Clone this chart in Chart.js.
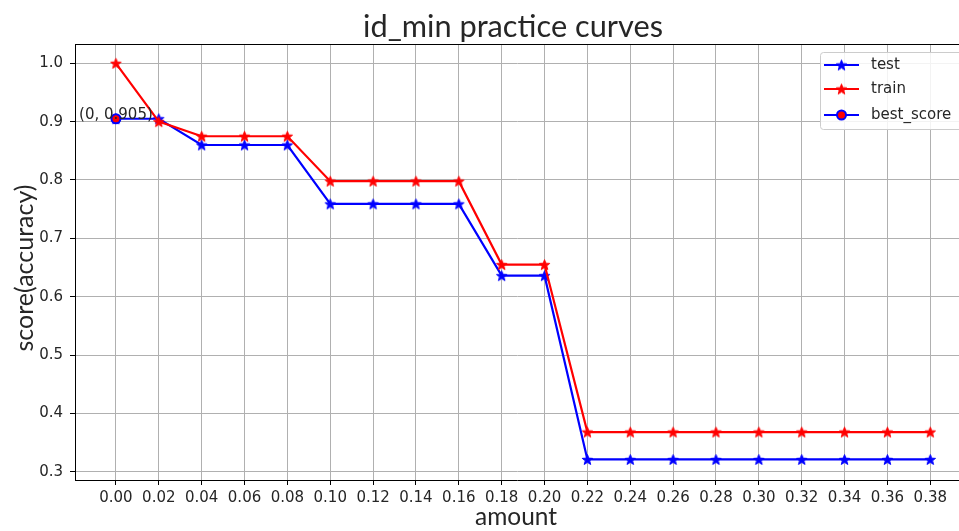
<!DOCTYPE html>
<html>
<head>
<meta charset="utf-8">
<title>id_min practice curves</title>
<script src="https://cdn.jsdelivr.net/npm/chart.js@4/dist/chart.umd.min.js"></script>
<style>
  html, body { margin: 0; padding: 0; background: #ffffff; overflow: hidden; }
  #wrap { width: 959px; height: 531px; position: relative; }
</style>
</head>
<body>
<div id="wrap"><canvas id="chart" width="959" height="531"></canvas></div>
<script>
// ---- data ----
const amounts = [0.00, 0.02, 0.04, 0.06, 0.08, 0.10, 0.12, 0.14, 0.16, 0.18,
                 0.20, 0.22, 0.24, 0.26, 0.28, 0.30, 0.32, 0.34, 0.36, 0.38];
const testScores = [0.905, 0.905, 0.860, 0.860, 0.860, 0.759, 0.759, 0.759, 0.759, 0.636,
                    0.636, 0.321, 0.321, 0.321, 0.321, 0.321, 0.321, 0.321, 0.321, 0.321];
const trainScores = [1.000, 0.900, 0.875, 0.875, 0.875, 0.798, 0.798, 0.798, 0.798, 0.655,
                     0.655, 0.368, 0.368, 0.368, 0.368, 0.368, 0.368, 0.368, 0.368, 0.368];
const bestAmount = 0;
const bestScore = 0.905;
const yTicks = [0.3, 0.4, 0.5, 0.6, 0.7, 0.8, 0.9, 1.0];

const chartTitle = 'id_min practice curves';
const xTitle = 'amount';
const yTitle = 'score(accuracy)';
const seriesNames = ['test', 'train', 'best_score'];

// ---- styling ----
const BLUE = '#0000ff';
const RED = '#ff0000';
const GRID = '#b0b0b0';
const TEXT = '#262626';
const TICK_FONT = 'DejaVu Sans';
const LABEL_FONT = 'Lato';

// filled five-pointed star used as the point marker
function starMarker(color, r) {
  const size = Math.ceil(r * 2) + 2;
  const c = document.createElement('canvas');
  c.width = size; c.height = size;
  const g = c.getContext('2d');
  g.translate(size / 2, size / 2 + r * 0.1);
  g.beginPath();
  for (let i = 0; i < 10; i++) {
    const rad = i % 2 ? r * 0.42 : r;
    const a = -Math.PI / 2 + i * Math.PI / 5;
    g.lineTo(rad * Math.cos(a), rad * Math.sin(a));
  }
  g.closePath();
  g.fillStyle = color;
  g.fill();
  g.lineWidth = 1;
  g.strokeStyle = color;
  g.lineJoin = 'miter';
  g.stroke();
  return c;
}
const blueStar = starMarker(BLUE, 5.5);
const redStar = starMarker(RED, 5.5);

const toPoints = (ys) => amounts.map((x, i) => ({ x: x, y: ys[i] }));

function fitFontSize(ctx, text, family, target) {
  ctx.font = '100px "' + family + '"';
  return 100 * target / ctx.measureText(text).width;
}

// title, axis titles, annotation, top spine and legend
const decorations = {
  id: 'decorations',
  afterDraw(chart) {
    const ctx = chart.ctx;
    const area = chart.chartArea;
    const xs = chart.scales.x, ys = chart.scales.y;
    ctx.save();

    // top spine
    ctx.strokeStyle = '#000000';
    ctx.lineWidth = 1;
    ctx.beginPath();
    ctx.moveTo(area.left, Math.round(area.top) + 0.5);
    ctx.lineTo(area.right, Math.round(area.top) + 0.5);
    ctx.stroke();

    // chart title
    ctx.fillStyle = TEXT;
    ctx.textAlign = 'center';
    ctx.textBaseline = 'alphabetic';
    let fs = fitFontSize(ctx, chartTitle, LABEL_FONT, 300);
    ctx.font = fs + 'px "' + LABEL_FONT + '"';
    ctx.fillText(chartTitle, 513, 37);

    // x axis title
    fs = fitFontSize(ctx, xTitle, LABEL_FONT, 82);
    ctx.font = fs + 'px "' + LABEL_FONT + '"';
    ctx.fillText(xTitle, 516, 525);

    // y axis title
    fs = fitFontSize(ctx, yTitle, LABEL_FONT, 167);
    ctx.font = fs + 'px "' + LABEL_FONT + '"';
    ctx.save();
    ctx.translate(25, 268);
    ctx.rotate(-Math.PI / 2);
    ctx.textBaseline = 'middle';
    ctx.fillText(yTitle, 0, 0);
    ctx.restore();

    // annotation for the best score
    ctx.font = '15px "' + TICK_FONT + '"';
    ctx.textAlign = 'center';
    ctx.textBaseline = 'alphabetic';
    ctx.fillStyle = TEXT;
    ctx.fillText('(' + bestAmount + ', ' + bestScore + ')',
      xs.getPixelForValue(bestAmount), ys.getPixelForValue(bestScore));

    // legend
    const lx = 820.5, ly = 52.5, lw = 160, lh = 77;
    ctx.beginPath();
    ctx.roundRect(lx, ly, lw, lh, 3);
    ctx.fillStyle = 'rgba(255,255,255,0.85)';
    ctx.fill();
    ctx.strokeStyle = '#cccccc';
    ctx.lineWidth = 1;
    ctx.stroke();

    const rows = [65, 89, 115];
    const lineColors = [BLUE, RED, BLUE];
    rows.forEach((y, i) => {
      ctx.strokeStyle = lineColors[i];
      ctx.lineWidth = 2.2;
      ctx.beginPath();
      ctx.moveTo(824, y);
      ctx.lineTo(859, y);
      ctx.stroke();
      const mx = 841.5;
      if (i < 2) {
        const img = i === 0 ? blueStar : redStar;
        ctx.drawImage(img, mx - img.width / 2, y - img.height / 2);
      } else {
        ctx.beginPath();
        ctx.arc(mx, y, 4.5, 0, Math.PI * 2);
        ctx.fillStyle = RED;
        ctx.fill();
        ctx.strokeStyle = BLUE;
        ctx.lineWidth = 2;
        ctx.stroke();
      }
      ctx.fillStyle = TEXT;
      ctx.font = '15px "' + TICK_FONT + '"';
      ctx.textAlign = 'left';
      ctx.textBaseline = 'middle';
      ctx.fillText(seriesNames[i], 871, y);
    });

    ctx.restore();
  }
};

new Chart(document.getElementById('chart'), {
  type: 'line',
  data: {
    datasets: [
      {
        label: seriesNames[0],
        data: toPoints(testScores),
        borderColor: BLUE,
        backgroundColor: BLUE,
        borderWidth: 2.2,
        pointStyle: blueStar,
        pointRadius: 5,
        tension: 0,
        fill: false,
        order: 3
      },
      {
        label: seriesNames[1],
        data: toPoints(trainScores),
        borderColor: RED,
        backgroundColor: RED,
        borderWidth: 2.2,
        pointStyle: redStar,
        pointRadius: 5,
        tension: 0,
        fill: false,
        order: 2
      },
      {
        label: seriesNames[2],
        data: [{ x: bestAmount, y: bestScore }],
        showLine: false,
        pointStyle: 'circle',
        pointRadius: 4.5,
        pointBackgroundColor: RED,
        pointBorderColor: BLUE,
        pointBorderWidth: 2,
        order: 1
      }
    ]
  },
  options: {
    responsive: false,
    animation: false,
    layout: { autoPadding: false, padding: { top: 44, left: 0, right: 0, bottom: 0 } },
    plugins: {
      legend: { display: false },
      title: { display: false },
      tooltip: { enabled: false }
    },
    scales: {
      x: {
        type: 'linear',
        min: -0.0191,
        max: 0.3934,
        bounds: 'data',
        afterBuildTicks: (s) => { s.ticks = amounts.map(v => ({ value: v })); },
        afterFit: (s) => { s.height = 51; s.paddingLeft = 0; s.paddingRight = 0; },
        grid: { color: GRID, lineWidth: 1, drawTicks: true, tickLength: 5, tickColor: '#000000', tickWidth: 1 },
        border: { display: true, color: '#000000', width: 1 },
        ticks: {
          autoSkip: false,
          maxRotation: 0,
          padding: 4,
          color: TEXT,
          font: { family: TICK_FONT, size: 15 },
          callback: (v) => Number(v).toFixed(2)
        }
      },
      y: {
        type: 'linear',
        min: 0.2858,
        max: 1.0331,
        bounds: 'data',
        afterBuildTicks: (s) => { s.ticks = yTicks.map(v => ({ value: v })); },
        afterFit: (s) => { s.width = 75; s.paddingTop = 0; s.paddingBottom = 0; },
        grid: { color: GRID, lineWidth: 1, drawTicks: true, tickLength: 5, tickColor: '#000000', tickWidth: 1 },
        border: { display: true, color: '#000000', width: 1 },
        ticks: {
          padding: 7,
          color: TEXT,
          font: { family: TICK_FONT, size: 15 },
          callback: (v) => Number(v).toFixed(1)
        }
      }
    }
  },
  plugins: [decorations]
});
</script>
</body>
</html>
